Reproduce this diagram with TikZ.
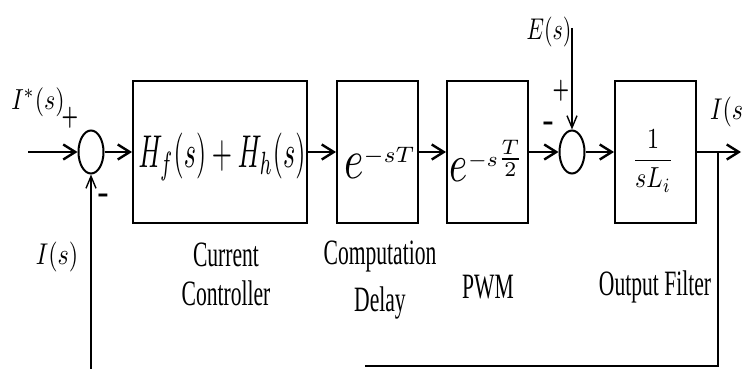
\documentclass[tikz,border=0pt]{standalone}
\usepackage{amsmath}
\usepackage[no-math]{fontspec}
\setmainfont{Liberation Serif}
\usetikzlibrary{arrows.meta,shapes.geometric}

% letters in this loop are set taller than wide
\newcommand{\stretchbox}[3]{\scalebox{#1}[#2]{#3}}

\begin{document}
\begin{tikzpicture}[
    x=0.5pt, y=-0.5pt,
    block/.style={draw, line width=1pt, minimum height=71pt, inner sep=0pt},
    sum/.style={ellipse, draw, line width=1pt, minimum width=12.5pt, minimum height=21.5pt, inner sep=0pt},
    signal/.style={line width=1.2pt, -{Straight Barb[length=6pt,width=7.5pt]}},
    fbline/.style={line width=0.7pt},
    fbsignal/.style={line width=0.7pt, -{Straight Barb[length=6pt,width=5pt]}},
    caption/.style={inner sep=0pt, font=\fontsize{10.8}{12}\selectfont},
    plus/.style={inner sep=0pt, font=\fontsize{9}{9}\selectfont},
    minus/.style={inner sep=0pt, font=\bfseries\fontsize{17}{17}\selectfont}
]

\useasboundingbox (0,0) rectangle (744,369);

% Summing junctions and blocks
\node[sum] (sum1) at (91,152) {};
\node[block, minimum width=87pt] (ctrl) at (220,152) {};
\node[block, minimum width=40.5pt] (delay) at (377.5,152) {};
\node[block, minimum width=40.5pt] (pwm) at (487.5,152) {};
\node[sum] (sum2) at (572,152) {};
\node[block, minimum width=40.5pt] (filter) at (655.5,152) {};

% Transfer functions
\node (ctrltf) at (222,157) {\stretchbox{1.3}{2.3}{$H_f(s)+H_h(s)$}};
\node (delaytf) at (380,163) {\stretchbox{1.6}{1.6}{${\scalebox{1.3}[1.75]{$e$}}^{-sT}$}};
\node (pwmtf) at (487,161) {\stretchbox{1.5}{1.5}{${\scalebox{1.3}[1.75]{$e$}}^{-s\tfrac{T}{2}}$}};
\node (filtertf) at (653,161) {\stretchbox{1.2}{1.45}{$\dfrac{1}{sL_i}$}};

% Block captions
\node[caption] (ctrlcap) at (226,278) {\stretchbox{1}{1.65}{\begin{tabular}{@{}c@{}}Current\\Controller\end{tabular}}};
\node[caption] (delaycap) at (380,280) {\stretchbox{1}{1.65}{\begin{tabular}{@{}c@{}}Computation\\[2pt]Delay\end{tabular}}};
\node[caption] (pwmcap) at (488,287) {\stretchbox{1}{1.65}{PWM}};
\node[caption] (filtercap) at (655,287) {\stretchbox{1}{1.65}{Output Filter}};

% Signal labels and signs
\node (refin) at (38,102) {\stretchbox{1.2}{1.45}{$I^*(s)$}};
\node[plus] (refplus) at (70,118) {\stretchbox{1}{1.5}{$\boldsymbol{+}$}};
\node[minus] (fbminus) at (103,199) {-};
\node (fbin) at (57,257) {\stretchbox{1.2}{1.5}{$I(s)$}};
\node (dist) at (549,32) {\stretchbox{1.1}{1.5}{$E(s)$}};
\node[plus] (distplus) at (561,91) {\stretchbox{1}{1.5}{$\boldsymbol{+}$}};
\node[minus] (pwmminus) at (548,127) {-};
\node[anchor=west] (iout) at (703,112) {\stretchbox{1.2}{1.5}{$I(s)$}};

% Free ends of the lines
\coordinate (in) at (28,152);
\coordinate (out) at (741,152);
\coordinate (branch) at (718,152);
\coordinate (fbcorner) at (718,366);
\coordinate (fbend) at (365,366);
\coordinate (fbstart) at (91,372);
\coordinate (disttop) at (572,28);

% Forward path
\draw[signal] (in) -- (sum1);
\draw[signal] (sum1) -- (ctrl);
\draw[signal] (ctrl) -- (delay);
\draw[signal] (delay) -- (pwm);
\draw[signal] (pwm) -- (sum2);
\draw[signal] (sum2) -- (filter);
\draw[signal] (filter) -- (out);

% Disturbance and feedback
\draw[fbsignal] (disttop) -- (sum2);
\draw[fbline] (branch) -- (fbcorner) -- (fbend);
\draw[fbsignal] (fbstart) -- (sum1);

\end{tikzpicture}
\end{document}
